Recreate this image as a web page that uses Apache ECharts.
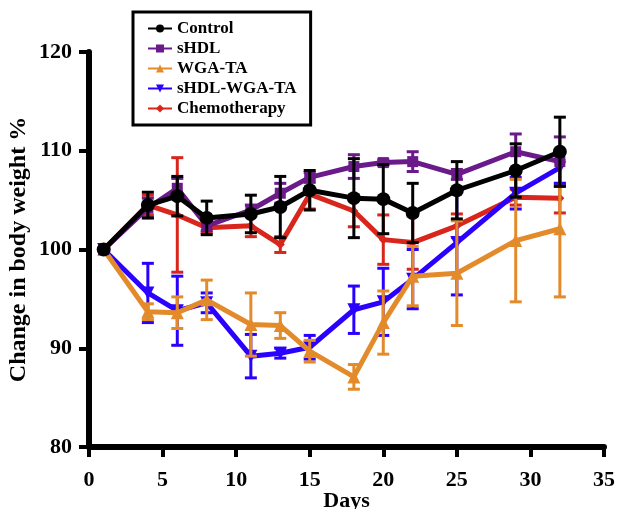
<!DOCTYPE html>
<html>
<head>
<meta charset="utf-8">
<script src="https://cdn.jsdelivr.net/npm/echarts@6/dist/echarts.min.js"></script>
<style>
  html, body { margin: 0; padding: 0; background: #fff; }
  #chart { width: 619px; height: 509px; }
</style>
</head>
<body>
<div id="chart"></div>
<script>
const days = [1, 4, 6, 8, 11, 13, 15, 18, 20, 22, 25, 29, 32];

const controlVals = [100, 104.5, 105.4, 103.2, 103.6, 104.3, 106.0, 105.2, 105.1, 103.7, 106.0, 108.0, 109.9];
const controlErr = [0, 1.3, 2.0, 1.7, 1.9, 3.1, 2.0, 4.0, 3.5, 3.0, 2.9, 2.7, 3.5];

const shdlVals = [100, 104.2, 106.2, 102.4, 104.0, 105.7, 107.3, 108.4, 108.8, 108.9, 107.6, 109.9, 108.9];
const shdlErr = [0, 1.0, 1.0, 0.5, 0.5, 1.0, 0.5, 1.2, 0.3, 1.0, 0.5, 1.8, 2.5];

const wgaVals = [100, 93.7, 93.6, 94.9, 92.4, 92.3, 89.7, 87.1, 92.6, 97.3, 97.6, 100.9, 102.1];
const wgaErr = [0, 0.8, 1.6, 2.0, 3.2, 1.3, 1.1, 1.25, 3.2, 3.0, 5.3, 6.2, 6.9];

const shdlWgaVals = [100, 95.6, 93.8, 94.6, 89.2, 89.5, 90.1, 93.9, 94.7, 97.0, 100.7, 105.7, 108.3];
const shdlWgaErr = [0, 3.0, 3.5, 1.0, 2.2, 0.5, 1.2, 2.4, 3.4, 3.0, 5.3, 1.6, 1.6];

const chemoVals = [100, 104.5, 103.5, 102.2, 102.4, 100.5, 105.6, 103.9, 101.0, 100.7, 102.4, 105.3, 105.2];
const chemoErr = [0, 1.0, 5.8, 0.5, 1.1, 0.8, 1.5, 1.6, 2.5, 2.7, 1.2, 0.8, 1.5];

const seriesNames = ['Control', 'sHDL', 'WGA-TA', 'sHDL-WGA-TA', 'Chemotherapy'];
const xTicks = [0, 35, 5];   // min, max, interval
const yTicks = [80, 120, 10];

const font = 'Liberation Serif';

// error bars: vertical line with caps, drawn via the axes
function errSeries(name, vals, errs, color, z) {
  return {
    type: 'custom',
    name: name + ' err',
    z: z,
    silent: true,
    renderItem: (params, api) => {
      const x = api.value(0), y = api.value(1), e = api.value(2);
      if (!e) return null;
      const top = api.coord([x, y + e]);
      const bot = api.coord([x, y - e]);
      const w = 6;
      const st = { stroke: color, lineWidth: 3 };
      return {
        type: 'group',
        children: [
          { type: 'line', shape: { x1: top[0], y1: top[1], x2: bot[0], y2: bot[1] }, style: st },
          { type: 'line', shape: { x1: top[0] - w, y1: top[1], x2: top[0] + w, y2: top[1] }, style: st },
          { type: 'line', shape: { x1: bot[0] - w, y1: bot[1], x2: bot[0] + w, y2: bot[1] }, style: st }
        ]
      };
    },
    data: days.map((d, i) => [d, vals[i], errs[i]])
  };
}

function lineSeries(name, vals, color, symbol, size, z, rotate) {
  return {
    type: 'line',
    name: name,
    z: z,
    data: days.map((d, i) => [d, vals[i]]),
    symbol: symbol,
    symbolSize: size,
    symbolRotate: rotate || 0,
    lineStyle: { color: color, width: 5 },
    itemStyle: { color: color },
    emphasis: { disabled: true }
  };
}

const chartDom = document.getElementById('chart');
const myChart = echarts.init(chartDom);

const axisText = { fontFamily: font, fontWeight: 'bold', fontSize: 22, color: '#000' };

const option = {
  animation: false,
  grid: { left: 89, right: 15, top: 52, bottom: 62, containLabel: false, outerBoundsMode: 'none' },
  legend: {
    data: seriesNames,
    orient: 'vertical',
    left: 133,
    top: 12,
    padding: [8, 14, 8, 14],
    itemGap: 3,
    itemWidth: 24,
    itemHeight: 10,
    borderColor: '#000',
    borderWidth: 3,
    textStyle: { fontFamily: font, fontWeight: 'bold', fontSize: 17, lineHeight: 17, color: '#000' }
  },
  xAxis: {
    type: 'value',
    min: xTicks[0], max: xTicks[1], interval: xTicks[2],
    name: 'Days',
    nameLocation: 'middle',
    nameGap: 43,
    nameMoveOverlap: false,
    nameTextStyle: axisText,
    axisLine: { lineStyle: { color: '#000', width: 6 } },
    axisTick: { length: 10, lineStyle: { color: '#000', width: 4 } },
    axisLabel: Object.assign({ margin: 22 }, axisText),
    splitLine: { show: false }
  },
  yAxis: {
    type: 'value',
    min: yTicks[0], max: yTicks[1], interval: yTicks[2],
    name: 'Change in body weight %',
    nameLocation: 'middle',
    nameGap: 58,
    nameMoveOverlap: false,
    nameTextStyle: Object.assign({}, axisText, { fontSize: 24 }),
    axisLine: { lineStyle: { color: '#000', width: 6 } },
    axisTick: { length: 10, lineStyle: { color: '#000', width: 4 } },
    axisLabel: Object.assign({ margin: 17 }, axisText),
    splitLine: { show: false }
  },
  series: [
    errSeries('Chemotherapy', chemoVals, chemoErr, '#d8261c', 1),
    lineSeries('Chemotherapy', chemoVals, '#d8261c', 'diamond', 9, 1),
    errSeries('sHDL-WGA-TA', shdlWgaVals, shdlWgaErr, '#2a00ff', 2),
    lineSeries('sHDL-WGA-TA', shdlWgaVals, '#2a00ff', 'triangle', 13, 2, 180),
    errSeries('WGA-TA', wgaVals, wgaErr, '#e38b2b', 3),
    lineSeries('WGA-TA', wgaVals, '#e38b2b', 'triangle', 13, 3),
    errSeries('sHDL', shdlVals, shdlErr, '#6b1a8a', 4),
    lineSeries('sHDL', shdlVals, '#6b1a8a', 'rect', 11, 4),
    errSeries('Control', controlVals, controlErr, '#000000', 5),
    lineSeries('Control', controlVals, '#000000', 'circle', 14, 5)
  ]
};

option && myChart.setOption(option);
</script>
</body>
</html>
